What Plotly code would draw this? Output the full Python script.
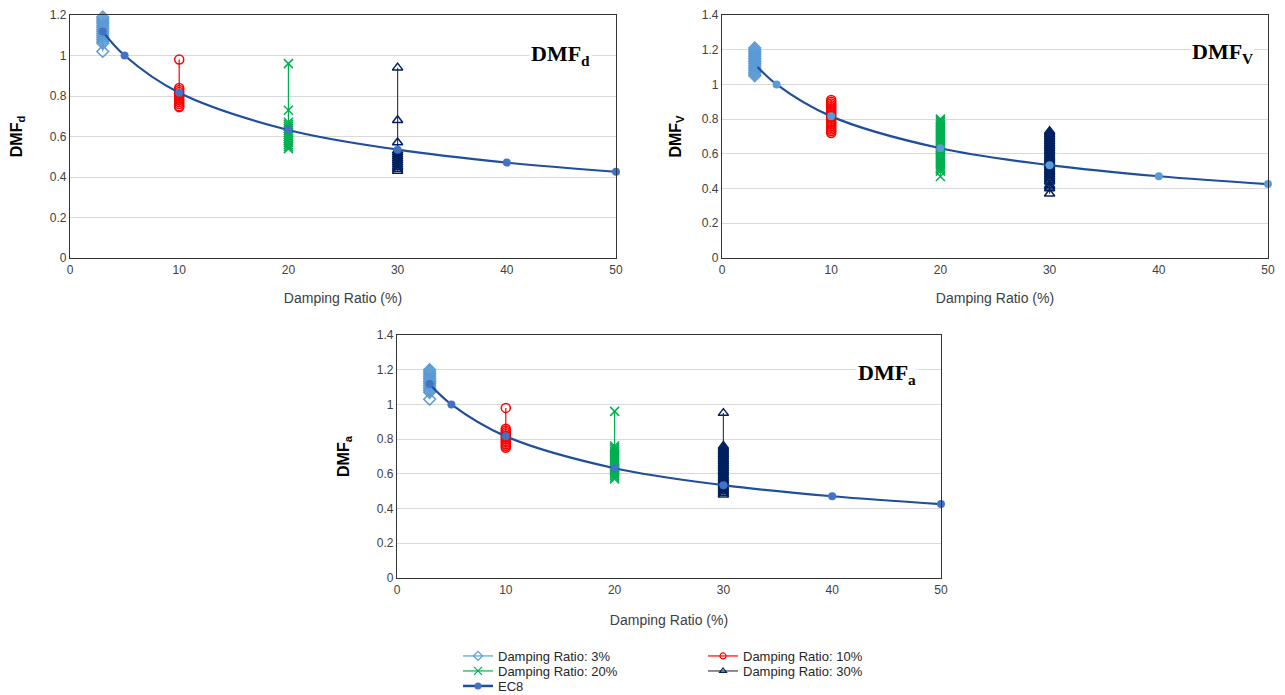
import plotly.graph_objects as go

# ---------------- data ----------------
ratio_labels = ["Damping Ratio: 3%", "Damping Ratio: 10%", "Damping Ratio: 20%", "Damping Ratio: 30%"]
ratio_x = [3, 10, 20, 30]

ec8_x = [3, 5, 10, 20, 30, 40, 50]
ec8_y = [1.118, 1.0, 0.816, 0.632, 0.535, 0.471, 0.426]

# DMF_d
dmf_d_3 = [1.02, 1.06, 1.07, 1.08, 1.09, 1.10, 1.11, 1.12, 1.13, 1.14, 1.15, 1.16, 1.17, 1.18, 1.19]
dmf_d_10 = [0.98, 0.84, 0.83, 0.82, 0.81, 0.80, 0.79, 0.78, 0.77, 0.76, 0.75, 0.745]
dmf_d_20 = [0.96, 0.73, 0.67, 0.66, 0.65, 0.64, 0.63, 0.62, 0.61, 0.60, 0.59, 0.58, 0.57, 0.56, 0.55, 0.54]
dmf_d_30 = [0.94, 0.68, 0.57, 0.53, 0.52, 0.51, 0.50, 0.49, 0.48, 0.47, 0.46, 0.45, 0.44, 0.43]

# DMF_V
dmf_v_3 = [1.05, 1.06, 1.07, 1.08, 1.09, 1.10, 1.11, 1.12, 1.13, 1.14, 1.15, 1.16, 1.17, 1.18, 1.19, 1.20, 1.21]
dmf_v_10 = [0.72, 0.73, 0.74, 0.75, 0.76, 0.77, 0.78, 0.79, 0.80, 0.81, 0.82, 0.83, 0.84, 0.85, 0.86, 0.87, 0.88, 0.89, 0.90, 0.91]
dmf_v_20 = [0.47, 0.50, 0.51, 0.52, 0.53, 0.54, 0.55, 0.56, 0.57, 0.58, 0.59, 0.60, 0.61, 0.62, 0.63, 0.64, 0.65,
            0.66, 0.67, 0.68, 0.69, 0.70, 0.71, 0.72, 0.73, 0.74, 0.75, 0.76, 0.77, 0.78, 0.79, 0.80]
dmf_v_30 = [0.37, 0.40, 0.41, 0.42, 0.44, 0.45, 0.46, 0.47, 0.48, 0.49, 0.50, 0.51, 0.52, 0.53, 0.54, 0.55, 0.56,
            0.57, 0.58, 0.59, 0.60, 0.61, 0.62, 0.63, 0.64, 0.65, 0.66, 0.67, 0.68, 0.69, 0.70, 0.71, 0.72, 0.73]

# DMF_a
dmf_a_3 = [1.03, 1.07, 1.08, 1.09, 1.10, 1.11, 1.12, 1.13, 1.14, 1.15, 1.16, 1.17, 1.18, 1.19, 1.20]
dmf_a_10 = [0.98, 0.86, 0.85, 0.84, 0.83, 0.82, 0.81, 0.80, 0.79, 0.78, 0.77, 0.76, 0.75]
dmf_a_20 = [0.96, 0.76, 0.75, 0.74, 0.73, 0.72, 0.71, 0.70, 0.69, 0.68, 0.67, 0.66, 0.65, 0.64, 0.63, 0.62,
            0.61, 0.60, 0.59, 0.58, 0.57]
dmf_a_30 = [0.95, 0.76, 0.75, 0.74, 0.73, 0.72, 0.71, 0.70, 0.69, 0.68, 0.67, 0.66, 0.65, 0.64, 0.63, 0.62,
            0.61, 0.60, 0.59, 0.58, 0.57, 0.56, 0.55, 0.54, 0.53, 0.52, 0.51, 0.50, 0.49, 0.48]

panels = [
    dict(series=[dmf_d_3, dmf_d_10, dmf_d_20, dmf_d_30], ymax=1.2,
         ytitle="<b>DMF<sub>d</sub></b>", label="<b>DMF<sub>d</sub></b>", ec8_marker="#4472C4"),
    dict(series=[dmf_v_3, dmf_v_10, dmf_v_20, dmf_v_30], ymax=1.4,
         ytitle="<b>DMF<sub>V</sub></b>", label="<b>DMF<sub>V</sub></b>", ec8_marker="#5B9BD5"),
    dict(series=[dmf_a_3, dmf_a_10, dmf_a_20, dmf_a_30], ymax=1.4,
         ytitle="<b>DMF<sub>a</sub></b>", label="<b>DMF<sub>a</sub></b>", ec8_marker="#4472C4"),
]

# ---------------- styling ----------------
W, H = 1285, 695
series_style = [
    dict(line="#5B9BD5", marker="#5B9BD5", symbol="diamond-open", size=9, lsize=7),
    dict(line="#FF0000", marker="#FF0000", symbol="circle-open", size=9, lsize=6),
    dict(line="#00B050", marker="#00B050", symbol="x-thin-open", size=9, lsize=8),
    dict(line="#404040", marker="#002060", symbol="triangle-up-open", size=9, lsize=6),
]
ec8_line = "#1F4E9C"

# pixel boxes for plot areas: (left, right, top, bottom)
boxes = [(70, 616, 15, 258), (722, 1268, 15, 258), (397, 941, 335, 578)]
label_pos = [(560, 55), (1222, 53), (887, 374)]
ytitle_standoff = [23, 16, 23]
xtitle_standoff = [17, 17, 19]

legend_names = ["legend", "legend2", "legend3", "legend4", "legend5"]

fig = go.Figure()
FONT = "Arial, Liberation Sans, sans-serif"

for i, p in enumerate(panels):
    xa = "x" if i == 0 else f"x{i+1}"
    ya = "y" if i == 0 else f"y{i+1}"
    for j, vals in enumerate(p["series"]):
        st = series_style[j]
        fig.add_trace(go.Scatter(
            x=[ratio_x[j]] * len(vals), y=vals, mode="lines+markers",
            name=ratio_labels[j], xaxis=xa, yaxis=ya, cliponaxis=False,
            line=dict(color=st["line"], width=1.2),
            marker=dict(symbol=st["symbol"], size=st["size"], color=st["marker"],
                        line=dict(color=st["marker"], width=1.5)),
            showlegend=False, legendgroup=ratio_labels[j]))
    fig.add_trace(go.Scatter(
        x=ec8_x, y=ec8_y, mode="lines+markers", name="EC8", xaxis=xa, yaxis=ya,
        cliponaxis=False, line=dict(color=ec8_line, width=2.2, shape="spline", smoothing=1.0),
        marker=dict(symbol="circle", size=8, color=p["ec8_marker"]),
        showlegend=False, legendgroup="EC8"))

    l, r, t, b = boxes[i]
    axis_common = dict(showline=True, mirror=True, linecolor="#333333", linewidth=1.3,
                       ticks="", zeroline=False, automargin=False,
                       tickfont=dict(family=FONT, size=12, color="#404040"))
    fig.layout[f"xaxis{'' if i == 0 else i+1}"] = dict(
        domain=[l / W, r / W], anchor=ya, range=[0, 50], dtick=10, tick0=0,
        showgrid=False, title=dict(text="Damping Ratio (%)", standoff=xtitle_standoff[i],
                                   font=dict(family=FONT, size=14, color="#404040")),
        **axis_common)
    fig.layout[f"yaxis{'' if i == 0 else i+1}"] = dict(
        domain=[1 - b / H, 1 - t / H], anchor=xa, range=[0, p["ymax"]], dtick=0.2, tick0=0,
        showgrid=True, gridcolor="#D9D9D9", gridwidth=1.3,
        title=dict(text=p["ytitle"], standoff=ytitle_standoff[i],
                   font=dict(family=FONT, size=16, color="#000000")),
        **axis_common)
    lx, ly = label_pos[i]
    fig.add_annotation(x=lx / W, y=1 - ly / H, xref="paper", yref="paper",
                       text=p["label"], showarrow=False, bgcolor="white",
                       font=dict(family="Times New Roman, Liberation Serif, serif", size=22, color="#000000"),
                       xanchor="center", yanchor="middle")

# legend entries (drawn with small legend-only markers), two columns, three rows
for j in range(4):
    st = series_style[j]
    fig.add_trace(go.Scatter(
        x=[None], y=[None], mode="lines+markers", name=ratio_labels[j],
        line=dict(color=st["line"], width=1.2),
        marker=dict(symbol=st["symbol"], size=st["lsize"], color=st["marker"],
                    line=dict(color=st["marker"], width=1.2)),
        legend=legend_names[j], legendgroup=ratio_labels[j], showlegend=True))
fig.add_trace(go.Scatter(
    x=[None], y=[None], mode="lines+markers", name="EC8",
    line=dict(color=ec8_line, width=2.5), marker=dict(symbol="circle", size=7, color="#4472C4"),
    legend="legend5", legendgroup="EC8", showlegend=True))

leg_pos = [(463, 656), (708, 656), (463, 671), (708, 671), (463, 686)]
layout_legends = {}
for k, (px, py) in enumerate(leg_pos):
    layout_legends[legend_names[k]] = dict(
        x=(px - 5) / W, y=1 - py / H, xanchor="left", yanchor="middle",
        xref="paper", yref="paper", orientation="v", bgcolor="rgba(0,0,0,0)",
        font=dict(family=FONT, size=13, color="#262626"), itemwidth=30,
        tracegroupgap=0)

fig.update_layout(
    width=W, height=H, margin=dict(l=0, r=0, t=0, b=0, autoexpand=False),
    paper_bgcolor="white", plot_bgcolor="white",
    **layout_legends)

fig.write_html("out.html")
